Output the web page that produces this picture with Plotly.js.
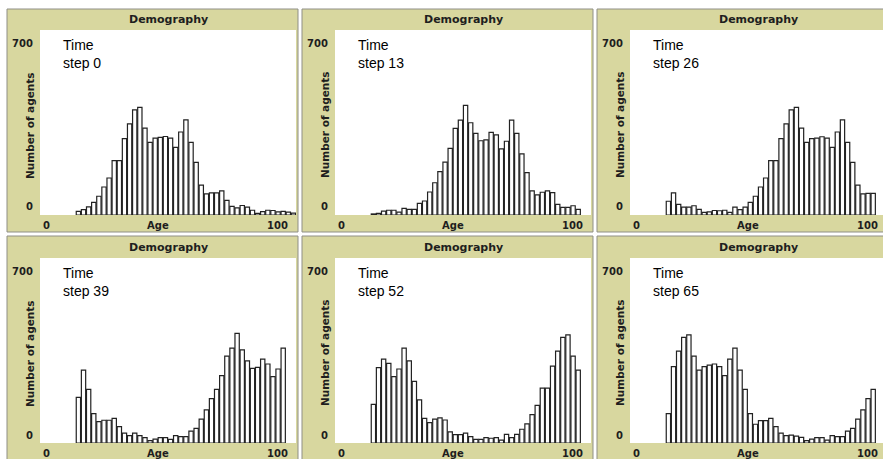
<!DOCTYPE html>
<html><head><meta charset="utf-8">
<script src="https://cdn.plot.ly/plotly-3.0.1.min.js"></script>
<style>html,body{margin:0;padding:0;background:#fff;overflow:hidden}#chart{width:883px;height:459px}</style>
</head><body><div id="chart"></div>
<script>
// ---- data (agents per 2-year age bin, first bin starts at age 14) ----
const step0  = [14,20,31,48,71,106,140,206,206,289,345,398,407,329,275,291,294,297,291,256,314,360,275,199,113,80,84,84,91,55,33,27,36,30,18,6,13,18,17,12,14,11,7,5];
const step13 = [4,6,15,18,18,11,25,21,21,44,53,87,122,164,200,252,328,359,415,349,309,281,284,313,303,250,279,359,309,231,160,91,76,86,91,85,40,29,29,35,21];
const step26 = [52,84,40,30,30,35,21,10,12,17,16,18,10,30,20,30,48,71,106,140,206,206,289,345,398,407,329,275,289,291,296,291,256,314,360,275,199,113,80,82,82];
const step39 = [173,276,203,111,81,86,86,93,62,37,28,37,28,20,9,15,20,20,14,28,24,24,45,55,90,125,168,203,255,329,359,415,352,311,282,286,317,299,251,280,359];
const step52 = [146,285,317,301,251,280,359,311,233,163,93,77,90,95,87,42,32,32,37,24,14,14,20,18,20,11,33,20,33,52,72,107,142,208,208,291,348,400,409,329,276];
const step65 = [111,289,348,400,409,329,276,289,295,299,289,255,317,359,276,203,111,71,85,85,93,62,37,28,30,26,21,9,15,20,20,11,28,24,24,45,55,90,125,168,203];
const timeSteps = [0, 13, 26, 39, 52, 65];
const binStart = 14, binWidth = 2;
const panelTitle = 'Demography';
const xAxisTitle = 'Age';
const yAxisTitle = 'Number of agents';
const xTickLabels = ['0', '100'];
const yTickLabels = ['0', '700'];
const xMax = 100, yMax = 700;

// ---- layout geometry (pixels) ----
const W = 883, H = 459;
const series = [step0, step13, step26, step39, step52, step65];
const colLeft = [40, 335, 630], plotW = 256;
const rowTop = [30, 258], plotH = 185;
const frameX = [[7, 298], [302, 593], [597, 895]];
const frameY = [[9, 232], [236, 470]];
const px = x => x / W, py = y => 1 - y / H;

const KHAKI = '#d8d79f', FRAME = '#8f8f86', INK = '#1e1e1e';
const labelFont = {family: 'DejaVu Sans, Verdana, sans-serif', size: 10, color: INK, weight: 'bold'};

const traces = [], shapes = [], annotations = [];
const layout = {
  width: W, height: H, margin: {l: 0, r: 0, t: 0, b: 0},
  paper_bgcolor: '#ffffff', plot_bgcolor: 'rgba(0,0,0,0)',
  showlegend: false, bargap: 0.16
};

// frames first, then white plot areas
for (let r = 0; r < 2; r++) for (let c = 0; c < 3; c++) {
  shapes.push({type: 'rect', xref: 'paper', yref: 'paper', layer: 'below',
    x0: px(frameX[c][0]), x1: px(frameX[c][1]), y0: py(frameY[r][1]), y1: py(frameY[r][0]),
    fillcolor: KHAKI, line: {color: FRAME, width: 1}});
}
for (let r = 0; r < 2; r++) for (let c = 0; c < 3; c++) {
  const right = Math.min(colLeft[c] + plotW, W);
  shapes.push({type: 'rect', xref: 'paper', yref: 'paper', layer: 'below',
    x0: px(colLeft[c]), x1: px(right), y0: py(rowTop[r] + plotH), y1: py(rowTop[r]),
    fillcolor: '#ffffff', line: {width: 0}});
}

series.forEach((vals, i) => {
  const c = i % 3, r = Math.floor(i / 3);
  const sfx = i === 0 ? '' : String(i + 1);
  const left = colLeft[c], right = Math.min(left + plotW, W);
  const top = rowTop[r], bottom = top + plotH;
  const visibleMax = xMax * (right - left) / plotW;

  traces.push({
    type: 'bar', xaxis: 'x' + sfx, yaxis: 'y' + sfx,
    x: vals.map((_, k) => binStart + binWidth * (k + 0.5)),
    y: vals,
    marker: {color: '#ffffff', line: {color: '#222222', width: 1.2}},
    hoverinfo: 'skip'
  });
  const axCommon = {showgrid: false, zeroline: false, showline: false, showticklabels: false, ticks: '', fixedrange: true};
  layout['xaxis' + sfx] = Object.assign({}, axCommon, {domain: [px(left), px(right)], range: [0, visibleMax], anchor: 'y' + sfx});
  layout['yaxis' + sfx] = Object.assign({}, axCommon, {domain: [py(bottom), py(top)], range: [0, yMax], anchor: 'x' + sfx});

  const ann = (o) => annotations.push(Object.assign({xref: 'paper', yref: 'paper', showarrow: false}, o));
  ann({text: panelTitle, x: px(left + 128), y: py(top - 10.5), xanchor: 'center', yanchor: 'middle',
       font: Object.assign({}, labelFont, {size: 11})});
  ann({text: yAxisTitle, x: px(left - 10), y: py(top + 95), textangle: -90, xanchor: 'center', yanchor: 'middle',
       font: Object.assign({}, labelFont, {size: 10.5})});
  ann({text: yTickLabels[1], x: px(left - 5), y: py(top + 13), xanchor: 'right', yanchor: 'middle', font: labelFont});
  ann({text: yTickLabels[0], x: px(left - 5), y: py(bottom - 8), xanchor: 'right', yanchor: 'middle', font: labelFont});
  ann({text: xTickLabels[0], x: px(left + 1), y: py(bottom + 10.5), xanchor: 'left', yanchor: 'middle', font: labelFont});
  ann({text: xTickLabels[1], x: px(left + 250), y: py(bottom + 10.5), xanchor: 'right', yanchor: 'middle', font: labelFont});
  ann({text: xAxisTitle, x: px(left + 118), y: py(bottom + 10.5), xanchor: 'center', yanchor: 'middle', font: labelFont});
  ann({text: 'Time<br>step ' + timeSteps[i], x: px(left + 21), y: py(top + 5), xanchor: 'left', yanchor: 'top', align: 'left',
       font: {family: 'Liberation Sans, Arial, sans-serif', size: 14, color: '#000'}});
});

layout.shapes = shapes;
layout.annotations = annotations;
Plotly.newPlot('chart', traces, layout, {staticPlot: true, displayModeBar: false});
</script>
</body></html>
